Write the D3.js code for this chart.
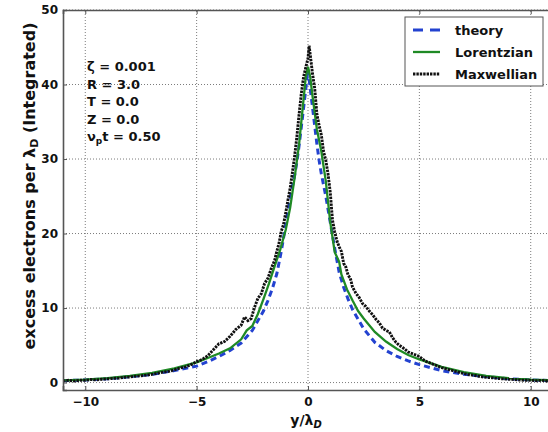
<!DOCTYPE html>
<html>
<head>
<meta charset="utf-8">
<script src="https://cdn.jsdelivr.net/npm/d3@7"></script>
<style>
  html, body { margin: 0; padding: 0; background: #fff; }
  svg text { font-family: "DejaVu Sans", sans-serif; font-weight: bold; fill: #111; }
</style>
</head>
<body>
<svg id="chart" width="548" height="432"></svg>
<script>
// Positions y/lambda_D and integrated electron excess for each curve
const theoryX = [-11, -10, -9, -8, -7, -6, -5, -4.5, -4, -3.5, -3, -2.5, -2, -1.8, -1.6, -1.4, -1.2, -1, -0.8, -0.6, -0.5, -0.4, -0.3, -0.2, -0.1, 0,
  0.1, 0.2, 0.3, 0.4, 0.5, 0.6, 0.8, 1, 1.2, 1.4, 1.6, 1.8, 2, 2.5, 3, 3.5, 4, 4.5, 5, 6, 7, 8, 9, 10, 11];
const theoryY = [0.25, 0.35, 0.5, 0.8, 1.1, 1.6, 2.2, 2.8, 3.5, 4.3, 5.3, 7.0, 9.6, 11.0, 12.6, 14.6, 17.6, 21.2, 24.8, 27.8, 29.6, 31.8, 34.3, 36.8, 39.4, 42.0,
  39.5, 37.0, 34.5, 32.0, 29.8, 28.0, 25.0, 21.5, 18.0, 14.8, 12.8, 11.2, 9.8, 7.2, 5.4, 4.3, 3.5, 2.9, 2.4, 1.6, 1.1, 0.8, 0.5, 0.35, 0.25];

const lorentzX = [-11, -10, -9, -8, -7, -6, -5, -4.5, -4, -3.5, -3, -2.75, -2.5, -2.25, -2, -1.75, -1.5, -1.25, -1, -0.8, -0.6, -0.4, -0.2, -0.1, 0,
  0.1, 0.2, 0.4, 0.6, 0.8, 1, 1.2, 1.4, 1.5, 1.75, 2, 2.25, 2.5, 3, 3.5, 4, 4.5, 5, 6, 7, 8, 9, 10, 11];
const lorentzY = [0.3, 0.4, 0.6, 0.9, 1.3, 1.9, 2.7, 3.3, 3.9, 4.6, 5.8, 7.0, 7.6, 9.2, 11.2, 13.3, 15.6, 17.8, 20.5, 23.5, 27.5, 32.0, 38.0, 41.0, 42.4,
  41.0, 38.5, 34.0, 31.0, 27.0, 21.5, 17.5, 16.2, 14.5, 12.5, 11.0, 9.6, 8.6, 6.8, 5.5, 4.5, 3.7, 3.1, 2.1, 1.4, 0.9, 0.6, 0.4, 0.3];

const maxwellX = [-11, -10.75, -10.5, -10.25, -10, -9.75, -9.5, -9.25, -9, -8.75, -8.5, -8.25, -8, -7.75, -7.5, -7.25, -7, -6.75, -6.5, -6.25,
  -6, -5.75, -5.5, -5.25, -5, -4.75, -4.5, -4.25, -4, -3.75, -3.5, -3.25, -3, -2.85, -2.7, -2.55, -2.4, -2.25, -2.1, -1.95,
  -1.8, -1.65, -1.5, -1.4, -1.3, -1.2, -1.1, -1, -0.9, -0.8, -0.7, -0.6, -0.5, -0.4, -0.3, -0.2, -0.1, 0, 0.05, 0.1,
  0.2, 0.3, 0.4, 0.5, 0.6, 0.7, 0.8, 0.9, 1, 1.1, 1.2, 1.3, 1.4, 1.5, 1.6, 1.7, 1.8, 1.9, 2, 2.15,
  2.3, 2.45, 2.6, 2.75, 2.9, 3.05, 3.2, 3.35, 3.5, 3.65, 3.8, 3.95, 4.1, 4.25, 4.5, 4.75, 5, 5.25, 5.5, 5.75,
  6, 6.25, 6.5, 6.75, 7, 7.25, 7.5, 7.75, 8, 8.25, 8.5, 8.75, 9, 9.25, 9.5, 9.75, 10, 10.25, 10.5, 10.75, 11];
const maxwellY = [0.2, 0.3, 0.2, 0.3, 0.3, 0.4, 0.35, 0.45, 0.5, 0.55, 0.6, 0.7, 0.75, 0.85, 0.9, 1.0, 1.1, 1.25, 1.4, 1.5,
  1.7, 1.95, 2.1, 2.4, 2.8, 3.1, 3.6, 4.4, 5.2, 5.5, 6.2, 7.1, 7.7, 8.8, 8.3, 8.6, 10.1, 11.3, 11.9, 13.3,
  14.0, 15.3, 16.4, 17.6, 18.7, 20.3, 21.2, 22.8, 24.5, 26.1, 28.2, 30.4, 33.0, 36.0, 38.8, 41.0, 42.3, 43.5, 45.2, 44.0,
  41.5, 39.5, 36.0, 34.5, 33.2, 31.0, 29.8, 28.0, 25.5, 21.8, 20.2, 19.0, 18.2, 17.6, 16.0, 15.5, 14.4, 14.0, 12.8, 12.0,
  11.4, 10.6, 10.2, 9.6, 9.1, 8.5, 8.0, 7.3, 7.0, 6.8, 6.0, 5.4, 5.0, 4.7, 4.1, 3.8, 3.5, 2.9, 2.6, 2.3,
  2.0, 1.8, 1.6, 1.4, 1.2, 1.05, 0.95, 0.8, 0.7, 0.65, 0.55, 0.5, 0.45, 0.4, 0.35, 0.3, 0.3, 0.25, 0.3, 0.2, 0.2];

const xTicks = [-10, -5, 0, 5, 10];
const yTicks = [0, 10, 20, 30, 40, 50];
const seriesNames = ["theory", "Lorentzian", "Maxwellian"];
const annotations = ["ζ = 0.001", "R = 3.0", "T = 0.0", "Z = 0.0"];

const svg = d3.select("#chart");
const margin = { left: 63, top: 10 };
const plotW = 490, plotH = 380;

const x = d3.scaleLinear().domain([-11, 11]).range([margin.left, margin.left + plotW]);
const y = d3.scaleLinear().domain([-1, 50]).range([margin.top + plotH, margin.top]);

svg.append("rect").attr("width", 548).attr("height", 432).attr("fill", "#fff");

svg.append("clipPath").attr("id", "plotclip")
  .append("rect").attr("x", x(-11)).attr("y", y(50)).attr("width", plotW).attr("height", plotH);

// dotted grid
const grid = svg.append("g").attr("class", "grid");
grid.selectAll("line.gx").data(xTicks).join("line")
  .attr("x1", d => x(d)).attr("x2", d => x(d))
  .attr("y1", y(-1)).attr("y2", y(50));
grid.selectAll("line.gy").data(yTicks).join("line")
  .attr("x1", x(-11)).attr("x2", x(11))
  .attr("y1", d => y(d)).attr("y2", d => y(d));
grid.selectAll("line")
  .attr("stroke", "#666").attr("stroke-width", 1)
  .attr("stroke-dasharray", "1,2").attr("opacity", 0.85);

// curves
const line = d3.line().x(d => x(d[0])).y(d => y(d[1]));
const curves = svg.append("g").attr("clip-path", "url(#plotclip)");

curves.append("path")
  .datum(d3.zip(theoryX, theoryY))
  .attr("d", line).attr("fill", "none")
  .attr("stroke", "#2342d0").attr("stroke-width", 3)
  .attr("stroke-dasharray", "6,4");

curves.append("path")
  .datum(d3.zip(lorentzX, lorentzY))
  .attr("d", line).attr("fill", "none")
  .attr("stroke", "#1f8a25").attr("stroke-width", 2.3);

curves.append("path")
  .datum(d3.zip(maxwellX, maxwellY))
  .attr("d", line).attr("fill", "none")
  .attr("stroke", "#111").attr("stroke-width", 2.9)
  .attr("stroke-dasharray", "2.4,1");

// axes with inward ticks
const frameColor = "#555";
const axB = svg.append("g").attr("transform", `translate(0,${y(-1)})`)
  .call(d3.axisBottom(x).tickValues(xTicks).tickSize(-4).tickPadding(7)
    .tickFormat(d => d < 0 ? "\u2212" + Math.abs(d) : d));
const axT = svg.append("g").attr("transform", `translate(0,${y(50)})`)
  .call(d3.axisTop(x).tickValues(xTicks).tickSize(-4).tickFormat(""));
const axL = svg.append("g").attr("transform", `translate(${x(-11)},0)`)
  .call(d3.axisLeft(y).tickValues(yTicks).tickSize(-4).tickPadding(5));
const axR = svg.append("g").attr("transform", `translate(${x(11)},0)`)
  .call(d3.axisRight(y).tickValues(yTicks).tickSize(-4).tickFormat(""));

[axB, axT, axL, axR].forEach(a => {
  a.select(".domain").attr("stroke", frameColor).attr("stroke-width", 1.6);
  a.selectAll(".tick line").attr("stroke", frameColor).attr("stroke-width", 1);
  a.selectAll("text").attr("font-family", "DejaVu Sans").attr("font-weight", "bold")
    .attr("font-size", 12).attr("fill", "#111");
});

// axis labels
const yl = svg.append("text")
  .attr("transform", "translate(35,186) rotate(-90)")
  .attr("text-anchor", "middle").attr("font-size", 16);
yl.append("tspan").text("excess electrons per λ");
yl.append("tspan").attr("font-size", 11).attr("dy", 3).text("D");
yl.append("tspan").attr("dy", -3).text(" (Integrated)");

const xl = svg.append("text")
  .attr("x", x(0) - 2).attr("y", 425)
  .attr("text-anchor", "middle").attr("font-size", 14);
xl.append("tspan").text("y/λ");
xl.append("tspan").attr("font-size", 10).attr("dy", 3).attr("font-style", "italic").text("D");

// parameter block
const ann = svg.append("g").attr("font-size", 13);
annotations.forEach((t, i) => {
  ann.append("text").attr("x", 87).attr("y", 71 + i * 17.5).text(t);
});
const nu = ann.append("text").attr("x", 87).attr("y", 71 + 4 * 17.5);
nu.append("tspan").text("ν");
nu.append("tspan").attr("font-size", 9).attr("dy", 3).text("p");
nu.append("tspan").attr("dy", -3).text("t = 0.50");

// legend
const leg = svg.append("g");
leg.append("rect").attr("x", 405).attr("y", 17).attr("width", 138).attr("height", 69)
  .attr("fill", "#fff").attr("stroke", frameColor).attr("stroke-width", 1);
const legStyles = [
  { stroke: "#2342d0", w: 3, dash: "10,7" },
  { stroke: "#1f8a25", w: 2.3, dash: null },
  { stroke: "#111", w: 2.9, dash: "2.4,1" }
];
seriesNames.forEach((name, i) => {
  const ly = 30 + i * 22;
  const st = legStyles[i];
  const l = leg.append("line").attr("x1", 413).attr("x2", 440).attr("y1", ly).attr("y2", ly)
    .attr("stroke", st.stroke).attr("stroke-width", st.w);
  if (st.dash) l.attr("stroke-dasharray", st.dash);
  leg.append("text").attr("x", 455).attr("y", ly + 4.5).attr("font-size", 13).text(name);
});
</script>
</body>
</html>
